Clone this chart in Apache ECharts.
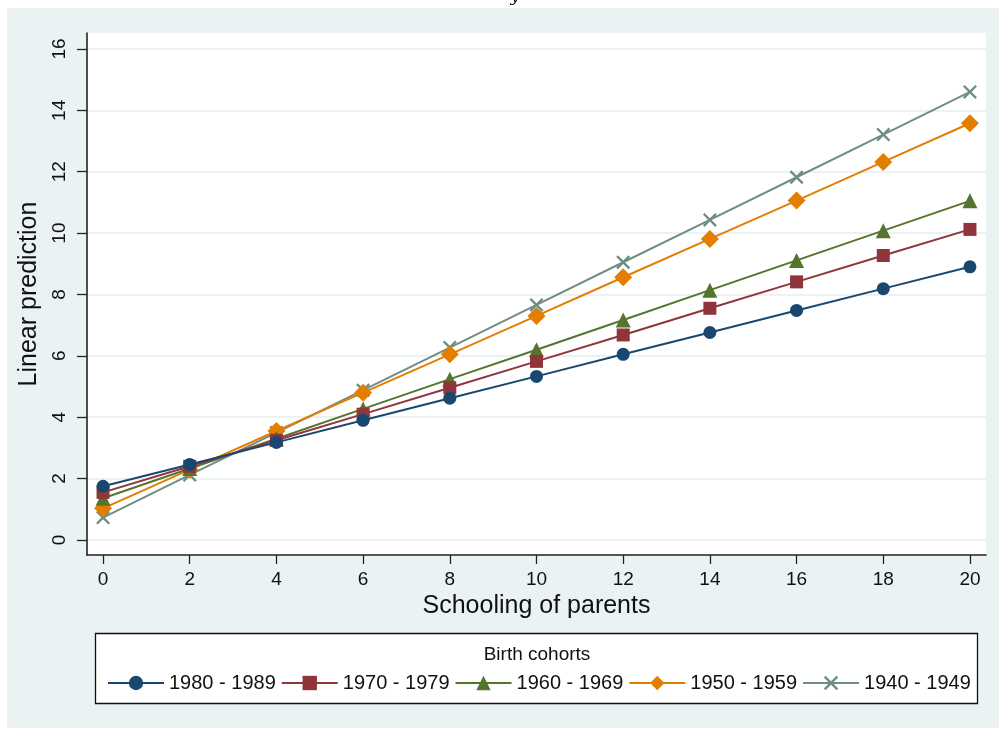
<!DOCTYPE html>
<html>
<head>
<meta charset="utf-8">
<script src="https://cdn.jsdelivr.net/npm/echarts@6/dist/echarts.min.js"></script>
<style>html,body{margin:0;padding:0;background:#fff;}#c{width:999px;height:729px;}</style>
</head>
<body>
<div id="c"></div>
<script>
const xValues = [0, 2, 4, 6, 8, 10, 12, 14, 16, 18, 20];
const xTicks = [0, 2, 4, 6, 8, 10, 12, 14, 16, 18, 20];
const yTicks = [0, 2, 4, 6, 8, 10, 12, 14, 16];
const seriesNames = ['1980 - 1989', '1970 - 1979', '1960 - 1969', '1950 - 1959', '1940 - 1949'];
const cohort1980 = [1.75, 2.46, 3.18, 3.90, 4.62, 5.33, 6.05, 6.76, 7.48, 8.19, 8.90];
const cohort1970 = [1.55, 2.40, 3.25, 4.10, 4.96, 5.82, 6.68, 7.55, 8.41, 9.27, 10.12];
const cohort1960 = [1.36, 2.33, 3.30, 4.27, 5.24, 6.20, 7.17, 8.14, 9.11, 10.08, 11.05];
const cohort1950 = [1.03, 2.29, 3.55, 4.80, 6.05, 7.30, 8.56, 9.81, 11.06, 12.32, 13.58];
const cohort1940 = [0.73, 2.12, 3.50, 4.88, 6.27, 7.66, 9.05, 10.43, 11.82, 13.21, 14.60];
const seriesValues = [cohort1980, cohort1970, cohort1960, cohort1950, cohort1940];

const colors = ['#1a476f', '#90353b', '#55752f', '#e37e00', '#6e8e84'];
const xMark = 'path://M0,1.2L1.2,0L5,3.8L8.8,0L10,1.2L6.2,5L10,8.8L8.8,10L5,6.2L1.2,10L0,8.8L3.8,5Z';
const symbols = ['circle', 'rect', 'triangle', 'diamond', xMark];
const sizes = [13, 13, 15, 18, 14];

const chart = echarts.init(document.getElementById('c'), null, {renderer: 'canvas'});
const font = 'Liberation Sans, Arial, Helvetica, sans-serif';

chart.setOption({
  animation: false,
  backgroundColor: '#ffffff',
  color: colors,
  graphic: [
    {type: 'rect', z: -10, shape: {x: 7, y: 8, width: 992, height: 720}, style: {fill: '#eaf2f3'}},
    {type: 'rect', z: 5, shape: {x: 95.5, y: 633.5, width: 882, height: 70}, style: {fill: '#ffffff', stroke: '#111', lineWidth: 1.3}},
    {type: 'text', z: 6, style: {text: 'Birth cohorts', x: 537, y: 655, align: 'center', verticalAlign: 'middle', font: '19px ' + font, fill: '#111'}},
    {type: 'text', z: 6, style: {text: 'y', x: 515, y: -11, align: 'center', verticalAlign: 'top', font: 'italic 16px DejaVu Serif, serif', fill: '#111'}}
  ],
  grid: {
    left: 87, top: 33, width: 899, height: 522,
    show: true, backgroundColor: '#ffffff', borderWidth: 0
  },
  legend: {
    z: 10,
    left: 107, top: 673,
    padding: 0,
    itemWidth: 56, itemHeight: 18, itemGap: 5,
    textStyle: {fontSize: 20, fontFamily: font, color: '#111'},
    data: seriesNames
  },
  xAxis: {
    type: 'value', min: -0.37, max: 20.37,
    name: 'Schooling of parents', nameLocation: 'middle', nameGap: 37,
    nameTextStyle: {fontSize: 25, fontFamily: font, color: '#111'},
    axisLine: {show: true, onZero: false, lineStyle: {color: '#222', width: 1.6}},
    axisTick: {show: true, length: 9, customValues: xTicks, lineStyle: {color: '#222', width: 1.3}},
    axisLabel: {customValues: xTicks, margin: 15, fontSize: 19, fontFamily: font, color: '#111'},
    splitLine: {show: false}
  },
  yAxis: {
    type: 'value', min: -0.49, max: 16.52,
    name: 'Linear prediction', nameLocation: 'middle', nameGap: 44, nameRotate: 90,
    nameTextStyle: {fontSize: 25, fontFamily: font, color: '#111'},
    axisLine: {show: true, onZero: false, lineStyle: {color: '#222', width: 1.6}},
    axisTick: {show: true, length: 10, customValues: yTicks, lineStyle: {color: '#222', width: 1.3}},
    axisLabel: {customValues: yTicks, rotate: 90, margin: 18, fontSize: 19, fontFamily: font, color: '#111'},
    splitLine: {show: true, lineStyle: {color: '#e6eef0', width: 1.5}}
  },
  series: seriesNames.map((name, i) => ({
    name: name,
    type: 'line',
    data: xValues.map((x, j) => [x, seriesValues[i][j]]),
    symbol: symbols[i],
    symbolSize: sizes[i],
    showSymbol: true,
    lineStyle: {width: 2, color: colors[i]},
    itemStyle: {color: colors[i], borderWidth: 0},
    z: 2 + (4 - i)
  }))
});
</script>
</body>
</html>
